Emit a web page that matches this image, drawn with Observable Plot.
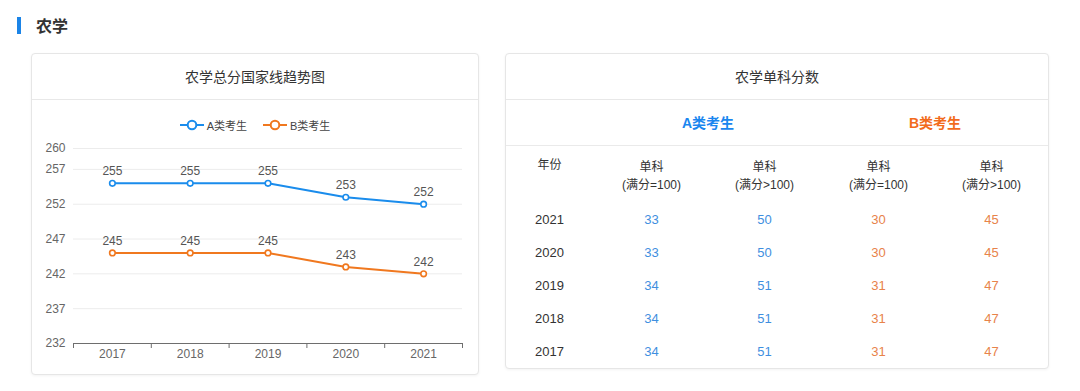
<!DOCTYPE html>
<html>
<head>
<meta charset="utf-8">
<script src="https://cdn.jsdelivr.net/npm/d3@7"></script>
<script src="https://cdn.jsdelivr.net/npm/@observablehq/plot@0.6"></script>
<style>
  html, body { margin: 0; padding: 0; background: #fff; }
  body { width: 1080px; height: 391px; position: relative; overflow: hidden;
         font-family: "Liberation Sans", "Noto Sans CJK SC", sans-serif; color: #333; }
  .heading { position: absolute; left: 17px; top: 15px; height: 20px; display: flex; align-items: center; }
  .heading .bar { width: 4px; height: 17px; background: #1b84e7; margin-right: 15px; }
  .heading .txt { font-size: 16px; font-weight: bold; color: #333; font-family: "Noto Sans CJK SC", sans-serif; }
  .card { position: absolute; box-sizing: border-box; border: 1px solid #e6e6e6; border-radius: 4px;
          background: #fff; box-shadow: 0 1px 3px rgba(0,0,0,0.05); }
  .card .title { height: 45px; line-height: 45px; text-align: center; font-size: 14px; color: #333;
                 border-bottom: 1px solid #e8e8e8; font-family: "Noto Sans CJK SC", sans-serif; }
  .card svg { position: absolute; left: 0; top: 46px; overflow: visible; }
  .legend { position: absolute; left: 0; right: 0; top: 62px; height: 18px; display: flex;
            justify-content: center; align-items: center; font-size: 11px; color: #444; z-index: 2; }
  .legend .item { display: flex; align-items: center; margin: 0 8px; }
  .legend .item svg { position: static; margin-right: 3px; }
  .divider { position: absolute; left: 0; right: 0; height: 1px; background: #eaeaea; }
</style>
</head>
<body>
<div class="heading"><div class="bar"></div><div class="txt">农学</div></div>

<div class="card" id="left" style="left:31px; top:53px; width:448px; height:322px;">
  <div class="title">农学总分国家线趋势图</div>
  <div class="legend" id="legend"></div>
</div>

<div class="card" id="right" style="left:505px; top:53px; width:544px; height:316px;">
  <div class="title">农学单科分数</div>
  <div class="divider" style="top:91px;"></div>
</div>

<script>
// ---------- data ----------
const years = [2017, 2018, 2019, 2020, 2021];
const seriesNames = ["A类考生", "B类考生"];
const totalA = [255, 255, 255, 253, 252];
const totalB = [245, 245, 245, 243, 242];
const yTicks = [232, 237, 242, 247, 252, 257, 260];

const subCols = ["单科\n(满分=100)", "单科\n(满分>100)"];
const singleA100 = [34, 34, 34, 33, 33];
const singleAOver = [51, 51, 51, 50, 50];
const singleB100 = [31, 31, 31, 30, 30];
const singleBOver = [47, 47, 47, 45, 45];
const yearHeader = "年份";

// ---------- styles ----------
const colorA = "#1a8cec";
const colorB = "#f0781f";
const textA = "#3f8fe0";
const textB = "#e8834a";
const headA = "#1a86ef";
const headB = "#f26b1c";
const font = '"Liberation Sans", "Noto Sans CJK SC", sans-serif';

// ---------- left: line chart ----------
const totals = [];
years.forEach((y, i) => {
  totals.push({year: y, type: seriesNames[0], score: totalA[i]});
  totals.push({year: y, type: seriesNames[1], score: totalB[i]});
});
const boundaries = [years[0] - 0.5, ...years.map(y => y + 0.5)];
const colorOf = {[seriesNames[0]]: colorA, [seriesNames[1]]: colorB};

const marksLine = [
  Plot.gridY(yTicks, {stroke: "#ececec", strokeOpacity: 1}),
  Plot.axisY(yTicks, {tickSize: 0, tickPadding: 8, fill: "#666", fontSize: 12, label: null}),
  Plot.ruleY([yTicks[0]], {stroke: "#6e6e6e"}),
  Plot.axisX(boundaries, {tickSize: 5, tickFormat: () => "", stroke: "#6e6e6e", label: null}),
  Plot.axisX(years, {tickSize: 0, tickPadding: 6, tickFormat: d => String(d), fill: "#666", fontSize: 12, label: null})
];
seriesNames.forEach(name => {
  const d = totals.filter(t => t.type === name);
  marksLine.push(Plot.line(d, {x: "year", y: "score", stroke: colorOf[name], strokeWidth: 2}));
  marksLine.push(Plot.dot(d, {x: "year", y: "score", r: 2.8, fill: "white", stroke: colorOf[name], strokeWidth: 1.6}));
  marksLine.push(Plot.text(d, {x: "year", y: "score", text: d => String(d.score), dy: -12, fill: "#555", fontSize: 12}));
});

const lineChart = Plot.plot({
  width: 446, height: 275,
  marginLeft: 41, marginRight: 16, marginTop: 48, marginBottom: 32,
  x: {type: "linear", domain: [boundaries[0], boundaries[boundaries.length - 1]], axis: null},
  y: {domain: [yTicks[0], yTicks[yTicks.length - 1]], axis: null},
  style: {fontFamily: font, background: "transparent"},
  marks: marksLine
});
document.getElementById("left").appendChild(lineChart);

// legend
const legend = document.getElementById("legend");
seriesNames.forEach(name => {
  const item = document.createElement("div");
  item.className = "item";
  item.innerHTML = `<svg width="24" height="12"><line x1="0" x2="24" y1="6" y2="6" stroke="${colorOf[name]}" stroke-width="2"/><circle cx="12" cy="6" r="4.3" fill="white" stroke="${colorOf[name]}" stroke-width="2"/></svg><span>${name}</span>`;
  legend.appendChild(item);
});

// ---------- right: table ----------
const rowYears = years.slice().reverse();
const cells = [];
years.forEach((y, i) => {
  cells.push({year: y, group: seriesNames[0], col: subCols[0], v: singleA100[i]});
  cells.push({year: y, group: seriesNames[0], col: subCols[1], v: singleAOver[i]});
  cells.push({year: y, group: seriesNames[1], col: subCols[0], v: singleB100[i]});
  cells.push({year: y, group: seriesNames[1], col: subCols[1], v: singleBOver[i]});
});
const colHeads = [];
seriesNames.forEach(g => subCols.forEach(c => colHeads.push({group: g, col: c})));

const table = Plot.plot({
  width: 542, height: 269,
  marginLeft: 88, marginRight: 0, marginTop: 101, marginBottom: 0,
  fx: {domain: seriesNames, padding: 0, axis: null},
  x: {domain: subCols, type: "point", padding: 0.5, axis: null},
  y: {domain: rowYears, type: "point", padding: 0.5, axis: null},
  style: {fontFamily: font, background: "transparent"},
  marks: [
    // group headers
    Plot.text(seriesNames, {fx: d => d, text: d => d, frameAnchor: "top", lineAnchor: "middle", dy: -78,
      fontSize: 14, fontWeight: "bold", fill: d => d === seriesNames[0] ? headA : headB}),
    // column headers
    Plot.text(colHeads, {fx: "group", x: "col", text: "col", frameAnchor: "top", lineAnchor: "middle",
      dy: -27, lineHeight: 1.5, fontSize: 12, fill: "#333"}),
    Plot.text([yearHeader], {fx: () => seriesNames[0], text: d => d, frameAnchor: "top-left", textAnchor: "middle",
      lineAnchor: "middle", dx: -45, dy: -36, fontSize: 12, fill: "#333"}),
    // year column
    Plot.text(rowYears, {fx: () => seriesNames[0], y: d => d, text: d => String(d), frameAnchor: "left",
      textAnchor: "middle", dx: -45, fontSize: 13, fill: "#333"}),
    // values
    Plot.text(cells, {fx: "group", x: "col", y: "year", text: d => String(d.v), fontSize: 13,
      fill: d => d.group === seriesNames[0] ? textA : textB})
  ]
});
document.getElementById("right").appendChild(table);
</script>
</body>
</html>
